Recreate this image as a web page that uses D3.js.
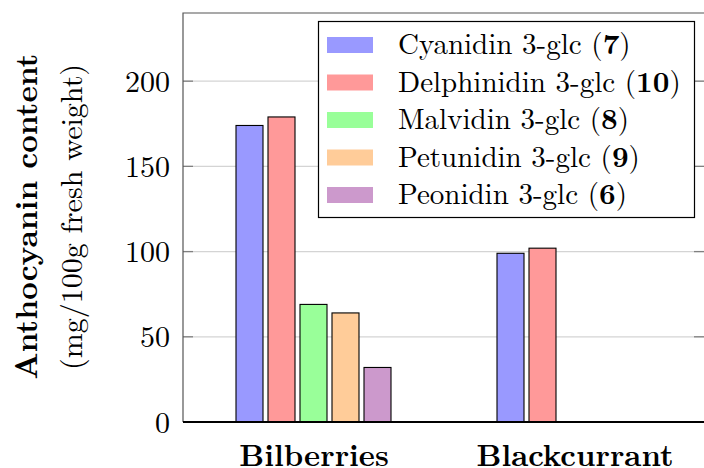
<!DOCTYPE html>
<html><head><meta charset="utf-8">
<script src="https://cdn.jsdelivr.net/npm/d3@7"></script>
<style>body{margin:0;background:#fff}svg{display:block}</style>
</head><body><svg id="c" width="704" height="468"></svg>
<script>
const categories = ["Bilberries", "Blackcurrant"];
const series = ["Cyanidin 3-glc", "Delphinidin 3-glc", "Malvidin 3-glc", "Petunidin 3-glc", "Peonidin 3-glc"];
const seriesNum = ["7", "10", "8", "9", "6"];
const bilberries = [174, 179, 69, 64, 32];
const blackcurrant = [99, 102, 0, 0, 0];
const colors = ["#9999ff", "#ff9999", "#99ff99", "#ffcc99", "#cc99cc"];
const yTicks = [0, 50, 100, 150, 200];

const FONT = '"Latin Modern Roman","CMU Serif","Liberation Serif",serif';
const values = {Bilberries: bilberries, Blackcurrant: blackcurrant};
const svg = d3.select("#c");
const L = 183, R = 705, T = 13, B = 422;
const y = d3.scaleLinear().domain([0, 240]).range([B, T]);
const x = d3.scalePoint().domain(categories).range([L, R]).padding(0.5);
const xi = d3.scaleBand().domain(series).range([-77.5, 77.5]).paddingInner(0.15625).paddingOuter(0);

// grid
svg.append("g").selectAll("line").data(yTicks.filter(d => d > 0)).join("line")
  .attr("x1", L).attr("x2", R).attr("y1", d => y(d)).attr("y2", d => y(d))
  .attr("stroke", "#d4d4d4").attr("stroke-width", 1.3);

// ticks both sides
const tg = svg.append("g");
tg.selectAll("line.l").data(yTicks).join("line").attr("class","l")
  .attr("x1", L).attr("x2", L + 10).attr("y1", d => y(d)).attr("y2", d => y(d))
  .attr("stroke", "#808080").attr("stroke-width", 1.3);
tg.selectAll("line.r").data(yTicks).join("line").attr("class","r")
  .attr("x1", R - 11).attr("x2", R).attr("y1", d => y(d)).attr("y2", d => y(d))
  .attr("stroke", "#808080").attr("stroke-width", 1.3);

// bars
const groups = svg.append("g").selectAll("g").data(categories).join("g")
  .attr("transform", d => `translate(${x(d)},0)`);
groups.selectAll("rect").data(c => values[c].map((v, i) => ({s: series[i], v, i}))).join("rect")
  .attr("x", d => xi(d.s)).attr("width", xi.bandwidth())
  .attr("y", d => y(d.v)).attr("height", d => y(0) - y(d.v))
  .attr("fill", d => colors[d.i]).attr("stroke", d => d.v > 0 ? "#000" : "#bbb").attr("stroke-width", d => d.v > 0 ? 1.1 : 0.6);

// frame
const yAxis = d3.axisLeft(y).tickValues(yTicks).tickSize(0).tickPadding(13);
const ya = svg.append("g").attr("transform", `translate(${L},0)`).call(yAxis);
ya.select(".domain").remove();
ya.attr("font-family", null).attr("font-size", null);
ya.selectAll("text").attr("dy", "0.34em").style("font-size", "30px").style("font-family", FONT);
svg.append("path").attr("d", `M${L},${B}V${T}H${R}V${B}`).attr("fill", "none").attr("stroke", "#555").attr("stroke-width", 1.2);
svg.append("line").attr("x1", L).attr("x2", R).attr("y1", B).attr("y2", B).attr("stroke", "#000").attr("stroke-width", 1.8);

// x labels
const xAxis = d3.axisBottom(x).tickSize(0).tickPadding(0);
const xa = svg.append("g").attr("transform", `translate(0,${B})`).call(xAxis);
xa.select(".domain").remove();
xa.attr("font-family", null).attr("font-size", null);
xa.selectAll("text").attr("dy", null).attr("y", 44).style("font-size", "30.5px").style("font-weight", "bold").style("font-family", FONT);

// y label
const yl = svg.append("g").attr("transform", `translate(0,${(T + B) / 2}) rotate(-90)`);
yl.append("text").attr("x", 1).attr("y", 37).attr("text-anchor", "middle").style("font-family", FONT).style("font-size", "31px").style("font-weight", "bold").text("Anthocyanin content");
yl.append("text").attr("x", 0.5).attr("y", 82).attr("text-anchor", "middle").style("font-family", FONT).style("font-size", "30px").text("(mg/100g fresh weight)");

// legend
const lg = svg.append("g");
lg.append("rect").attr("x", 318.5).attr("y", 21.5).attr("width", 376).attr("height", 196).attr("fill", "#fff").attr("stroke", "#000").attr("stroke-width", 1.2);
const rows = lg.selectAll("g").data(series).join("g").attr("transform", (d, i) => `translate(0,${45 + i * 37.5})`);
rows.append("rect").attr("x", 327).attr("y", -8).attr("width", 46).attr("height", 16).attr("fill", (d, i) => colors[i]);
const tx = rows.append("text").attr("x", 398).attr("y", 0).attr("dy", "0.32em").style("font-family", FONT).style("font-size", "29px");
tx.append("tspan").text(d => d + " (");
tx.append("tspan").style("font-weight", "bold").text((d, i) => seriesNum[i]);
tx.append("tspan").text(")");
</script></body></html>
